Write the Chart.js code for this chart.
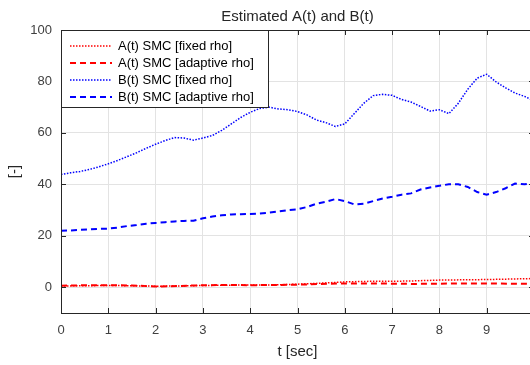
<!DOCTYPE html>
<html>
<head>
<meta charset="utf-8">
<script src="https://cdn.jsdelivr.net/npm/chart.js@4.4.1/dist/chart.umd.min.js"></script>
<style>
  html, body { margin: 0; padding: 0; background: #fff; overflow: hidden; }
  canvas { display: block; }
</style>
</head>
<body>
<canvas id="chart" width="540" height="365"></canvas>
<script>
// values
const tA = [0, 0.5, 1, 1.5, 2, 2.5, 3, 3.5, 4, 4.5, 5, 5.5, 6, 6.5, 7, 7.5, 8, 8.5, 9, 9.5, 10];
const aFixed = [0.5, 0.6, 0.7, 0.6, 0.4, 0.5, 0.7, 0.8, 0.9, 0.9, 1.2, 1.6, 2.1, 2.3, 2.3, 2.5, 2.8, 2.9, 3.0, 3.2, 3.4];
const aAdaptive = [0.6, 0.8, 0.8, 0.7, 0.3, 0.5, 0.8, 0.9, 0.8, 0.9, 1.0, 1.3, 1.5, 1.5, 1.4, 1.3, 1.4, 1.5, 1.5, 1.4, 1.3];

const tB = [0, 0.2, 0.4, 0.6, 0.8, 1.0, 1.2, 1.4, 1.6, 1.8, 2.0, 2.2, 2.4, 2.6, 2.8, 3.0, 3.2, 3.4, 3.6, 3.8,
            4.0, 4.2, 4.4, 4.6, 4.8, 5.0, 5.2, 5.4, 5.6, 5.8, 6.0, 6.2, 6.4, 6.6, 6.8, 7.0, 7.2, 7.4, 7.6, 7.8,
            8.0, 8.2, 8.4, 8.6, 8.8, 9.0, 9.2, 9.4, 9.6, 9.8, 10.0];
const bFixed = [43.8, 44.5, 45.0, 45.8, 46.8, 48.0, 49.3, 50.8, 52.3, 54.0, 55.6, 57.0, 58.2, 58.0, 57.2, 58.0, 59.0, 61.0, 63.5, 66.0,
                68.0, 69.5, 70.0, 69.3, 69.0, 68.3, 67.0, 65.0, 64.0, 62.5, 63.5, 67.5, 71.5, 74.5, 75.0, 74.6, 73.0, 72.0, 70.3, 68.5,
                69.0, 67.5, 71.5, 77.0, 81.3, 82.8, 79.8, 77.5, 75.5, 74.2, 72.5];
const bAdaptive = [22.0, 22.1, 22.3, 22.5, 22.7, 22.8, 23.2, 23.8, 24.2, 24.7, 25.0, 25.3, 25.6, 25.8, 25.9, 26.8, 27.5, 28.0, 28.3, 28.4,
                   28.5, 28.7, 29.0, 29.5, 30.0, 30.3, 31.2, 32.5, 33.2, 34.3, 33.5, 32.2, 32.5, 33.5, 34.5, 35.2, 36.0, 36.5, 38.0, 38.8,
                   39.5, 40.0, 40.0, 39.0, 37.0, 36.0, 37.0, 38.5, 40.3, 40.0, 40.5];

const xTicks = [0, 1, 2, 3, 4, 5, 6, 7, 8, 9];
const yTicks = [0, 20, 40, 60, 80, 100];

function pairs(xs, ys) {
    return xs.map(function (x, i) { return {x: x, y: ys[i]}; });
}

const DOTTED = [1.5, 1.5];
const DASHED = [6, 4];
const FONT = '"Liberation Sans", Arial, sans-serif';

// box, inward ticks and the legend, drawn like MATLAB does
const matlabBox = {
    id: 'matlabBox',
    afterDraw(chart) {
        const ctx = chart.ctx;
        const a = chart.chartArea;
        ctx.save();
        ctx.strokeStyle = '#262626';
        ctx.lineWidth = 1;
        ctx.setLineDash([]);
        ctx.strokeRect(a.left + 0.5, a.top + 0.5, a.right - a.left, a.bottom - a.top);

        ctx.beginPath();
        chart.scales.x.ticks.forEach(function (t) {
            const px = Math.round(chart.scales.x.getPixelForValue(t.value)) + 0.5;
            ctx.moveTo(px, a.bottom); ctx.lineTo(px, a.bottom - 5);
            ctx.moveTo(px, a.top); ctx.lineTo(px, a.top + 5);
        });
        chart.scales.y.ticks.forEach(function (t) {
            const py = Math.round(chart.scales.y.getPixelForValue(t.value)) + 0.5;
            ctx.moveTo(a.left, py); ctx.lineTo(a.left + 5, py);
            ctx.moveTo(a.right, py); ctx.lineTo(a.right - 5, py);
        });
        ctx.stroke();

        // legend
        const lx = a.left, ly = a.top, lw = 207, lh = 77;
        ctx.fillStyle = '#fff';
        ctx.fillRect(lx, ly, lw, lh);
        ctx.strokeStyle = '#262626';
        ctx.strokeRect(lx + 0.5, ly + 0.5, lw, lh);
        ctx.font = '13px ' + FONT;
        ctx.textBaseline = 'middle';
        ctx.textAlign = 'left';
        chart.data.datasets.forEach(function (ds, i) {
            const y = ly + 16 + i * 17;
            ctx.strokeStyle = ds.borderColor;
            ctx.lineWidth = ds.borderWidth;
            ctx.setLineDash(ds.borderDash);
            ctx.beginPath();
            ctx.moveTo(lx + 9, y); ctx.lineTo(lx + 51, y);
            ctx.stroke();
            ctx.fillStyle = '#000';
            ctx.fillText(ds.label, lx + 57, y);
        });
        ctx.restore();
    }
};

new Chart(document.getElementById('chart'), {
    type: 'line',
    data: {
        datasets: [
            {label: 'A(t) SMC [fixed rho]', data: pairs(tA, aFixed), borderColor: '#ff0000', borderWidth: 1.5, borderDash: DOTTED},
            {label: 'A(t) SMC [adaptive rho]', data: pairs(tA, aAdaptive), borderColor: '#ff0000', borderWidth: 2, borderDash: DASHED},
            {label: 'B(t) SMC [fixed rho]', data: pairs(tB, bFixed), borderColor: '#0000ff', borderWidth: 1.5, borderDash: DOTTED},
            {label: 'B(t) SMC [adaptive rho]', data: pairs(tB, bAdaptive), borderColor: '#0000ff', borderWidth: 2, borderDash: DASHED}
        ]
    },
    options: {
        responsive: false,
        animation: false,
        layout: {padding: {left: 0, top: 0, bottom: 0, right: 6}},
        elements: {point: {radius: 0}, line: {tension: 0}},
        plugins: {
            legend: {display: false},
            tooltip: {enabled: false},
            title: {
                display: true,
                text: 'Estimated A(t) and B(t)',
                fullSize: false,
                color: '#262626',
                font: {family: FONT, size: 15, weight: 'normal'},
                padding: {top: 8, bottom: 4}
            }
        },
        scales: {
            x: {
                type: 'linear',
                min: 0,
                max: 10,
                afterBuildTicks: function (scale) { scale.ticks = xTicks.map(function (v) { return {value: v}; }); },
                afterFit: function (scale) {
                    scale.height = 52;
                    scale.paddingLeft = 0;
                    scale.paddingRight = 0;
                },
                grid: {color: '#e3e3e3', drawTicks: false},
                border: {display: false},
                ticks: {color: '#404040', padding: 10, maxRotation: 0, font: {family: FONT, size: 13}},
                title: {display: true, text: 't [sec]', color: '#262626', padding: {top: 0, bottom: 4},
                        font: {family: FONT, size: 15}}
            },
            y: {
                min: -10,
                max: 100,
                afterBuildTicks: function (scale) { scale.ticks = yTicks.map(function (v) { return {value: v}; }); },
                afterFit: function (scale) { scale.width = 61; },
                grid: {color: '#e3e3e3', drawTicks: false},
                border: {display: false},
                ticks: {color: '#404040', padding: 9, font: {family: FONT, size: 13}},
                title: {display: true, text: '[-]', color: '#262626', padding: {top: 6, bottom: 0},
                        font: {family: FONT, size: 15}}
            }
        }
    },
    plugins: [matlabBox]
});
</script>
</body>
</html>
